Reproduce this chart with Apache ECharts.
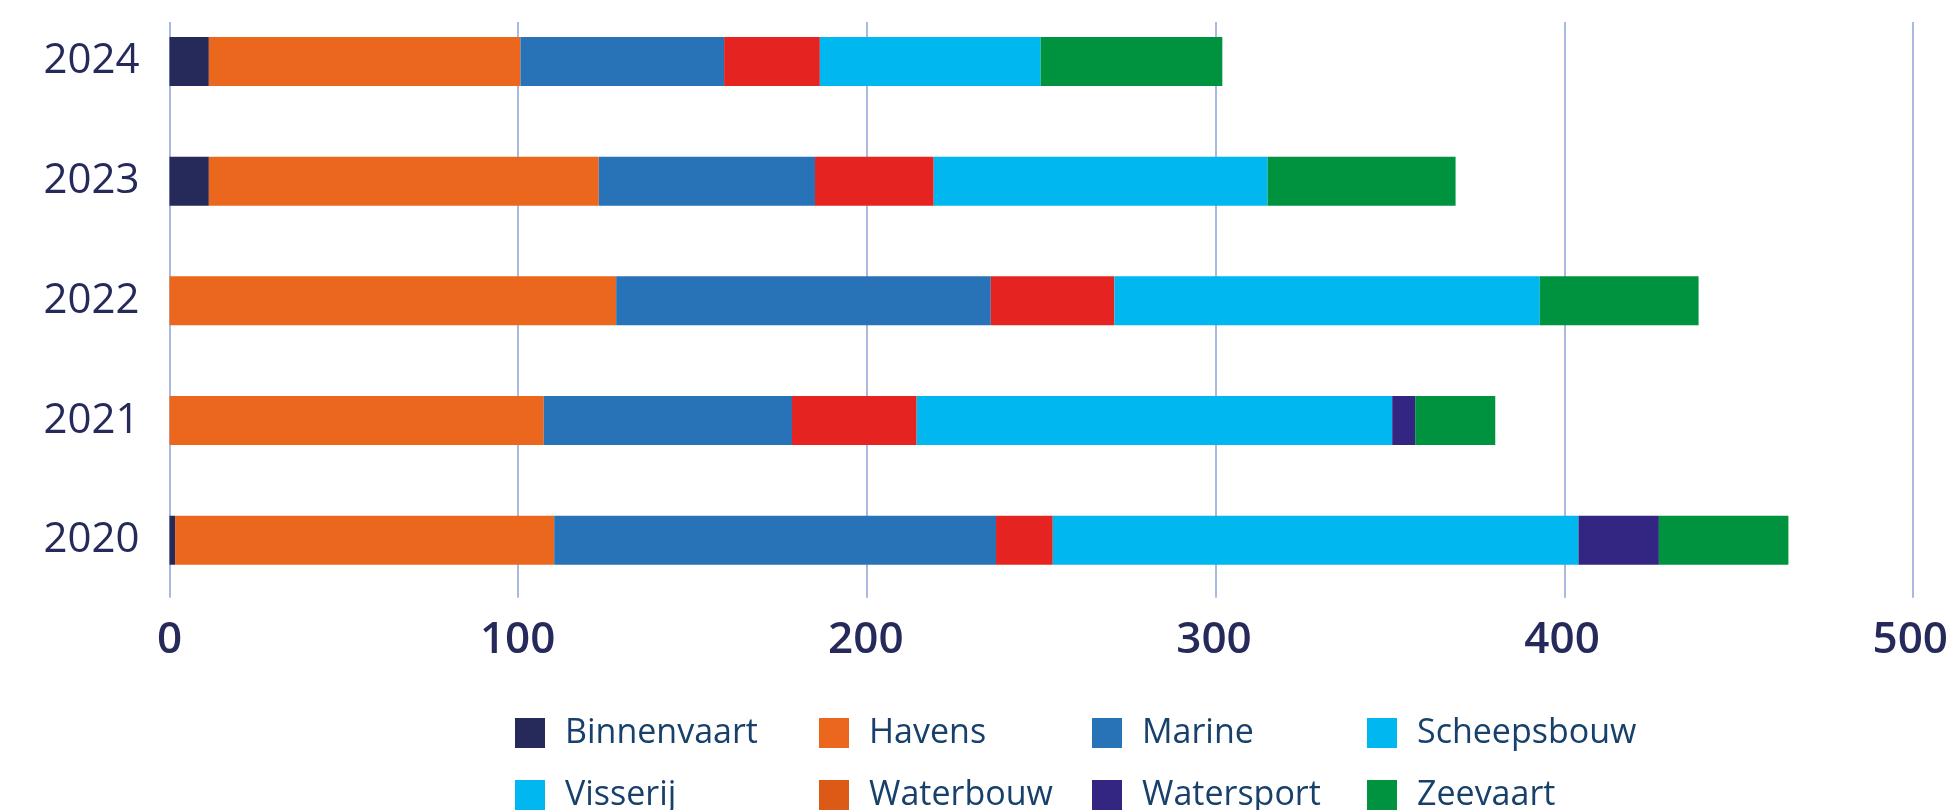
<!DOCTYPE html>
<html>
<head>
<meta charset="utf-8">
<script src="https://cdn.jsdelivr.net/npm/echarts@6/dist/echarts.min.js"></script>
<style>
    html, body { margin: 0; padding: 0; background: #fff; }
    #chart { width: 1951px; height: 810px; }
</style>
</head>
<body>
<div id="chart"></div>
<script>
    // jaren, van onder naar boven
    var years = ['2020', '2021', '2022', '2023', '2024'];
    var xTicks = [0, 100, 200, 300, 400, 500];

    var binnenvaart = [1.6, 0, 0, 11.3, 11.3];
    var havens = [108.9, 107.5, 128.3, 112, 89.5];
    var marine = [126.9, 71.3, 107.6, 62.1, 58.5];
    var scheepsbouw = [16.3, 35.8, 35.5, 34.1, 27.5];
    var visserij = [151, 136.6, 122.2, 95.9, 63.4];
    var waterbouw = [0, 0, 0, 0, 0];
    var watersport = [23.1, 6.6, 0, 0, 0];
    var zeevaart = [37.2, 23, 45.6, 54, 52.2];

    var colors = {
        Binnenvaart: '#252a5a',
        Havens: '#ec671e',
        Marine: '#2872b8',
        Scheepsbouw: '#e52421',
        Visserij: '#00b7ef',
        Waterbouw: '#dc5a16',
        Watersport: '#322682',
        Zeevaart: '#00933f'
    };

    var seriesData = [
        ['Binnenvaart', binnenvaart],
        ['Havens', havens],
        ['Marine', marine],
        ['Scheepsbouw', scheepsbouw],
        ['Visserij', visserij],
        ['Waterbouw', waterbouw],
        ['Watersport', watersport],
        ['Zeevaart', zeevaart]
    ];

    // legenda staat in een raster van 4 kolommen x 2 rijen
    var legendCols = [515, 819, 1092, 1367];
    var legendRows = [716, 778];

    function legendItem(name, idx) {
        return {
            left: legendCols[idx % 4],
            top: legendRows[Math.floor(idx / 4)],
            padding: 0,
            icon: 'rect',
            itemWidth: 30,
            itemHeight: 30,
            selectedMode: false,
            textStyle: {
                fontFamily: 'Open Sans',
                fontSize: 34,
                color: '#17406a',
                lineHeight: 30,
                padding: [0, 0, 0, 15]
            },
            // in de legenda staat Scheepsbouw lichtblauw
            data: [name === 'Scheepsbouw' ? { name: name, itemStyle: { color: '#00b7ef' } } : name]
        };
    }

    var chart = echarts.init(document.getElementById('chart'));

    chart.setOption({
        animation: false,
        grid: [
            { left: 169.5, right: 38, top: 1.6, bottom: 209.9 },
            { left: 169.5, right: 38, top: 22, bottom: 212.3 }
        ],
        legend: seriesData.map(function (s, i) { return legendItem(s[0], i); }),
        xAxis: [{
            type: 'value',
            gridIndex: 0,
            min: xTicks[0],
            max: xTicks[xTicks.length - 1],
            interval: 100,
            axisLine: { show: false },
            axisTick: { show: false },
            splitLine: { show: false },
            axisLabel: {
                margin: 18,
                fontFamily: 'Open Sans',
                fontSize: 44,
                fontWeight: 600,
                lineHeight: 44,
                color: '#262a5a'
            }
        }, {
            type: 'value',
            gridIndex: 1,
            min: xTicks[0],
            max: xTicks[xTicks.length - 1],
            interval: 100,
            axisLine: { show: false },
            axisTick: { show: false },
            axisLabel: { show: false },
            splitLine: { show: true, lineStyle: { color: '#a9b9e0', width: 2 } }
        }],
        yAxis: [{
            type: 'category',
            gridIndex: 0,
            data: years,
            axisLine: { show: false },
            axisTick: { show: false },
            axisLabel: {
                margin: 30,
                fontFamily: 'Open Sans',
                fontSize: 42,
                color: '#252a5a'
            }
        }, {
            type: 'category',
            gridIndex: 1,
            data: years,
            show: false
        }],
        series: seriesData.map(function (s) {
            return {
                name: s[0],
                type: 'bar',
                stack: 'totaal',
                xAxisIndex: 0,
                yAxisIndex: 0,
                barWidth: 49,
                itemStyle: { color: colors[s[0]] },
                data: s[1]
            };
        })
    });

    window.addEventListener('resize', function () {
        chart.resize();
    });
</script>
</body>
</html>
